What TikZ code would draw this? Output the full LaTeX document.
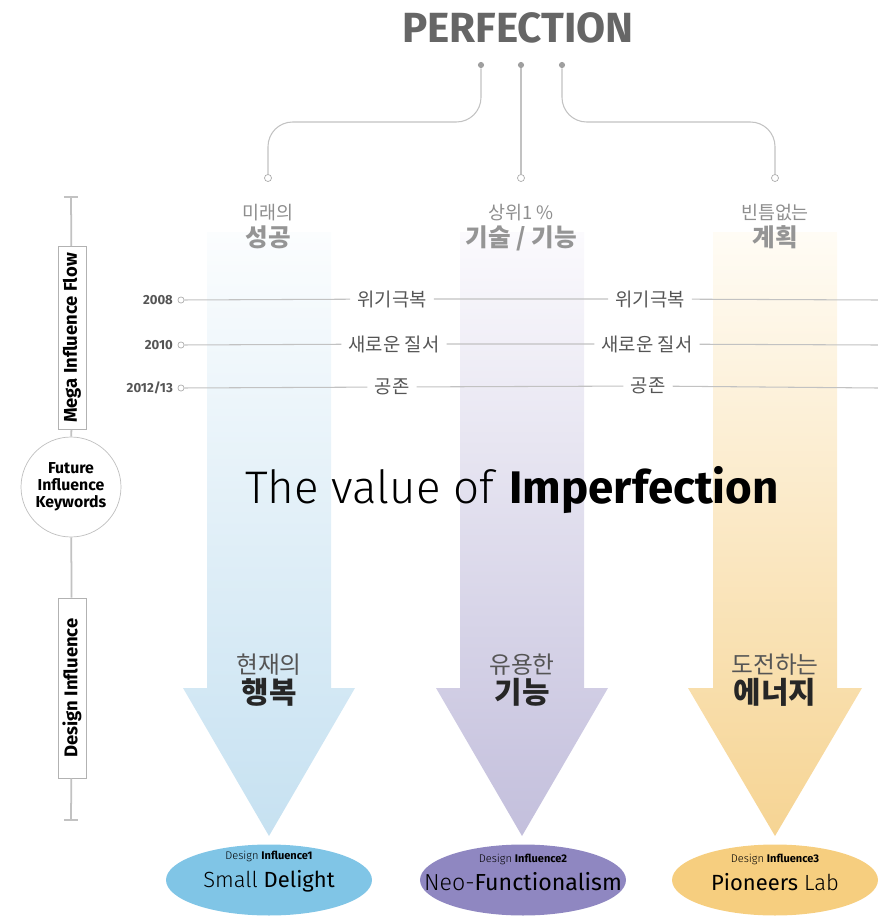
\documentclass[tikz,border=0pt]{standalone}
\usepackage{fontspec}
\setmainfont{Fira Sans}
\newfontfamily\lightfont{Fira Sans Light}
\newfontfamily\krfont{Noto Sans CJK KR}
\usetikzlibrary{positioning,shapes.geometric}

\definecolor{linegray}{HTML}{C2C2C2}
\definecolor{perfgray}{HTML}{666666}
\definecolor{labgray}{HTML}{8E8E8E}
\definecolor{boldgray}{HTML}{959595}
\definecolor{kwgray}{HTML}{555555}
\definecolor{blueA}{HTML}{FBFDFE}
\definecolor{blueB}{HTML}{C6E1F1}
\definecolor{blueE}{HTML}{80C5E6}
\definecolor{purpA}{HTML}{FBFAFD}
\definecolor{purpB}{HTML}{C3BFDC}
\definecolor{purpE}{HTML}{8F87C1}
\definecolor{yelA}{HTML}{FFFCF5}
\definecolor{yelB}{HTML}{F6D493}
\definecolor{yelE}{HTML}{F6CE7F}

\begin{document}
\begin{tikzpicture}[x=0.02cm,y=-0.02cm,
  conn/.style={draw=linegray, line width=0.6pt},
  dotnode/.style={circle, fill=gray!75, inner sep=0pt, minimum size=3.5pt},
  endnode/.style={circle, draw=gray!65, fill=white, inner sep=0pt, minimum size=4pt},
  toplight/.style={font=\krfont\fontsize{10.5}{12}\selectfont, text=labgray, inner sep=1pt},
  topbold/.style={font=\krfont\bfseries\fontsize{14}{16}\selectfont, text=boldgray, inner sep=1pt},
  kwnode/.style={font=\krfont\fontsize{10.7}{12}\selectfont, text=kwgray, inner sep=4pt},
  yearnode/.style={font=\bfseries\fontsize{7.5}{8}\selectfont, text=kwgray, anchor=east, inner sep=1pt},
  arrlight/.style={font=\krfont\fontsize{13.5}{15}\selectfont, text=kwgray},
  arrbold/.style={font=\krfont\bfseries\fontsize{17}{19}\selectfont, text=black!85},
  vbox/.style={draw=gray!60, fill=white, rotate=90, minimum height=0.56cm, inner sep=1pt,
    font=\bfseries\fontsize{10.5}{12}\selectfont},
  ell/.style={ellipse, minimum width=4.12cm, minimum height=1.42cm, inner sep=0pt},
  elltext/.style={align=center, inner sep=0pt}]

\useasboundingbox (0,0) rectangle (878,916);

% arrows
\shade[top color=blueA, bottom color=blueB] (207,232) -- (331,232) -- (331,688) -- (355,688)
  -- (269,836) -- (183,688) -- (207,688) -- cycle;
\shade[top color=purpA, bottom color=purpB] (460,232) -- (584,232) -- (584,688) -- (608,688)
  -- (522,836) -- (436,688) -- (460,688) -- cycle;
\shade[top color=yelA, bottom color=yelB] (713,232) -- (837,232) -- (837,688) -- (862,688)
  -- (775,836) -- (688,688) -- (713,688) -- cycle;

% title
\node[font=\bfseries\fontsize{24}{27}\selectfont, text=perfgray] (perf) at (518,28) {PERFECTION};
\node[dotnode] (d1) at (481,65) {};
\node[dotnode] (d2) at (521,65) {};
\node[dotnode] (d3) at (562,65) {};
\node[endnode] (t1) at (268,178) {};
\node[endnode] (t2) at (521,178) {};
\node[endnode] (t3) at (775,178) {};
\draw[conn, rounded corners=14] (d1) -- ++(0,57) -| (t1);
\draw[conn] (d2) -- (t2);
\draw[conn, rounded corners=14] (d3) -- ++(0,57) -| (t3);

\node[toplight] (l1) at (268,213) {미래의};
\node[topbold, below=0pt of l1] (b1) {성공};
\node[toplight] (l2) at (521,213) {상위1\,\%};
\node[topbold, below=0pt of l2] (b2) {기술 / 기능};
\node[toplight] (l3) at (775,213) {빈틈없는};
\node[topbold, below=0pt of l3] (b3) {계획};

% timeline
\node[yearnode] (y1) at (175,300) {2008};
\node[yearnode] (y2) at (175,345) {2010};
\node[yearnode] (y3) at (175,388) {2012/13};
\node[endnode, minimum size=3.5pt] (c1) at (181,300) {};
\node[endnode, minimum size=3.5pt] (c2) at (181,345) {};
\node[endnode, minimum size=3.5pt] (c3) at (181,388) {};
\node[kwnode] (k1a) at (392,299) {위기극복};
\node[kwnode] (k1b) at (650,299) {위기극복};
\node[kwnode] (k2a) at (394,344) {새로운 질서};
\node[kwnode] (k2b) at (647,344) {새로운 질서};
\node[kwnode] (k3a) at (392,387) {공존};
\node[kwnode] (k3b) at (648,386) {공존};
\coordinate (r1) at (878,300);
\coordinate (r2) at (878,345);
\coordinate (r3) at (878,388);
\draw[conn] (c1) -- (k1a) (k1a) -- (k1b) (k1b) -- (r1);
\draw[conn] (c2) -- (k2a) (k2a) -- (k2b) (k2b) -- (r2);
\draw[conn] (c3) -- (k3a) (k3a) -- (k3b) (k3b) -- (r3);

% left side
\coordinate (ltop) at (71,197);
\coordinate (lbot) at (71,820);
\node[vbox, minimum width=3.66cm] (mif) at (72,338) {Mega Influence Flow};
\node[circle, draw=gray!50, fill=white, minimum size=2cm, inner sep=0pt, align=center,
  font=\bfseries\fontsize{9}{9.8}\selectfont] (fik) at (71,487) {Future\\Influence\\Keywords};
\node[vbox, minimum width=3.6cm] (din) at (72,688) {Design Influence};
\draw[conn, line width=1pt] (ltop) -- (mif) (mif) -- (fik) (fik) -- (din) (din) -- (lbot);
\draw[conn, line width=1pt] ([xshift=-4pt]ltop) -- ([xshift=4pt]ltop);
\draw[conn, line width=1pt] ([xshift=-4pt]lbot) -- ([xshift=4pt]lbot);

% middle
\node[font=\fontsize{26}{29}\selectfont] (val) at (512,490) {{\lightfont The value of }\textbf{Imperfection}};

\node[arrlight] (a1) at (269,665) {현재의};
\node[arrbold] (a1b) at (269,692) {행복};
\node[arrlight] (a2) at (522,665) {유용한};
\node[arrbold] (a2b) at (522,692) {기능};
\node[arrlight] (a3) at (775,665) {도전하는};
\node[arrbold] (a3b) at (775,692) {에너지};

% influences
\node[ell, fill=blueE] (e1) at (269,880) {};
\node[ell, fill=purpE] (e2) at (523,880) {};
\node[ell, fill=yelE] (e3) at (775,880) {};
\node[elltext] (e1t) at (269,872)
  {{\fontsize{6.3}{7}\selectfont{\lightfont Design} \textbf{Influence1}}\\[4pt]
   {\fontsize{12.5}{14}\selectfont{\lightfont Small} Delight}};
\node[elltext] (e2t) at (523,872)
  {{\fontsize{6.3}{7}\selectfont{\lightfont Design} \textbf{Influence2}}\\[4pt]
   {\fontsize{13.2}{14}\selectfont{\lightfont Neo-}Functionalism}};
\node[elltext] (e3t) at (775,872)
  {{\fontsize{6.3}{7}\selectfont{\lightfont Design} \textbf{Influence3}}\\[4pt]
   {\fontsize{12.5}{14}\selectfont Pioneers {\lightfont Lab}}};
\end{tikzpicture}
\end{document}
